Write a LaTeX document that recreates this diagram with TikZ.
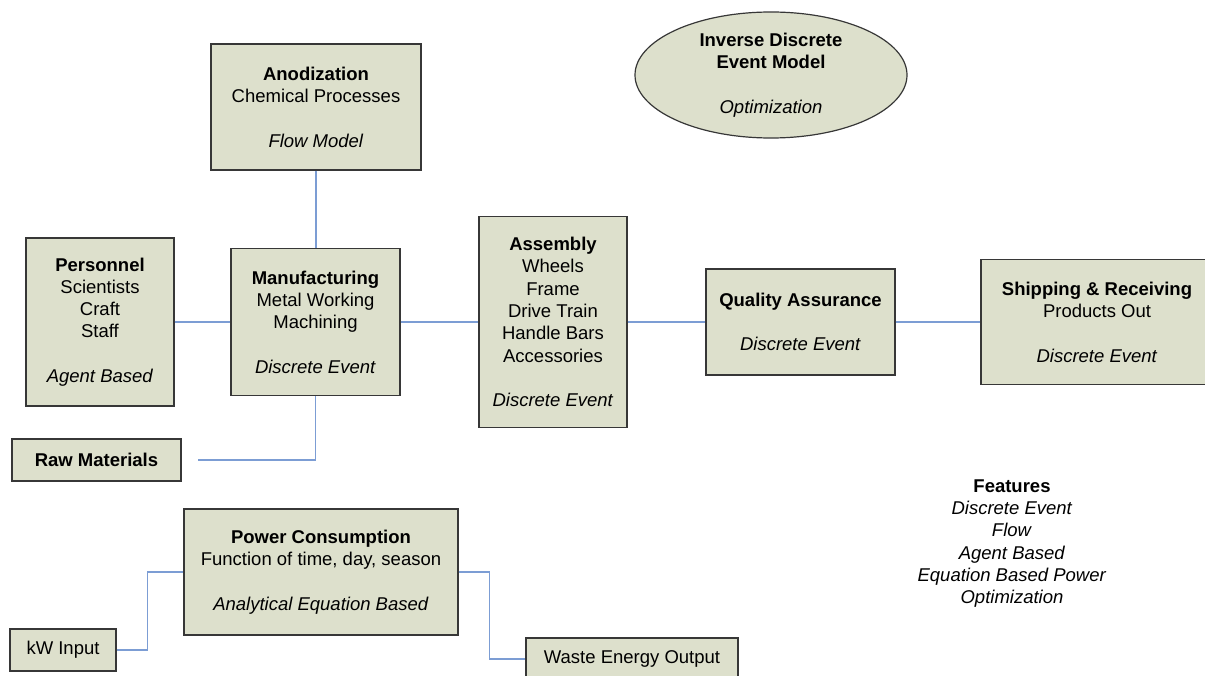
\documentclass[tikz,border=0pt]{standalone}
\usepackage{fontspec}
\setmainfont{Liberation Sans}
\usetikzlibrary{shapes.geometric,calc}
\definecolor{boxfill}{RGB}{221,224,204}
\definecolor{boxline}{RGB}{55,55,55}
\definecolor{linkblue}{RGB}{124,157,212}
\tikzset{
  modelbox/.style={draw=boxline, fill=boxfill, line width=1.2pt, inner sep=0pt, align=center,
    font=\fontsize{18.5}{22.3}\selectfont},
  plaintext/.style={inner sep=0pt, align=center, font=\fontsize{18.5}{22.3}\selectfont},
  link/.style={draw=linkblue, line width=1.4pt}
}
\begin{document}
\begin{tikzpicture}[x=1pt,y=-1pt]
\useasboundingbox (0,0) rectangle (1205,676);
\clip (0,0) rectangle (1205,676);
\fill[white] (0,0) rectangle (1205,676);

\node[modelbox, minimum width=210, minimum height=126] (anod) at (316,107)
  {\textbf{Anodization}\\Chemical Processes\\[22.3pt]\textit{Flow Model}};
\node[modelbox, ellipse, minimum width=272, minimum height=126] (inv) at (771,75)
  {\textbf{Inverse Discrete}\\\textbf{Event Model}\\[22.3pt]\textit{Optimization}};
\node[modelbox, minimum width=148, minimum height=168] (pers) at (100,322)
  {\textbf{Personnel}\\Scientists\\Craft\\Staff\\[22.3pt]\textit{Agent Based}};
\node[modelbox, minimum width=169, minimum height=147] (manu) at (315.5,322)
  {\textbf{Manufacturing}\\Metal Working\\Machining\\[22.3pt]\textit{Discrete Event}};
\node[modelbox, minimum width=148, minimum height=211] (asm) at (553,322)
  {\textbf{Assembly}\\Wheels\\Frame\\Drive Train\\Handle Bars\\Accessories\\[22.3pt]\textit{Discrete Event}};
\node[modelbox, minimum width=189, minimum height=106] (qa) at (800.5,322)
  {\textbf{Quality Assurance}\\[22.3pt]\textit{Discrete Event}};
\node[modelbox, minimum width=232, minimum height=125] (ship) at (1097,322)
  {\textbf{Shipping \& Receiving}\\Products Out\\[22.3pt]\textit{Discrete Event}};
\node[modelbox, minimum width=169, minimum height=42] (raw) at (96.5,460)
  {\textbf{Raw Materials}};
\node[modelbox, minimum width=274, minimum height=126] (pow) at (321,572)
  {\textbf{Power Consumption}\\Function of time, day, season\\[22.3pt]\textit{Analytical Equation Based}};
\node[modelbox, minimum width=106, minimum height=42] (kw) at (63,650)
  {kW Input};
\node[modelbox, minimum width=212, minimum height=42] (waste) at (632,659)
  {Waste Energy Output};
\node[plaintext] (feat) at (1012,543.5)
  {\textbf{Features}\\\textit{Discrete Event}\\\textit{Flow}\\\textit{Agent Based}\\\textit{Equation Based Power}\\\textit{Optimization}};

\coordinate (rawend) at (198,460);

\draw[link] (anod.south) -- (anod.south |- manu.north);
\draw[link] (pers.east) -- (pers.east -| manu.west);
\draw[link] (manu.east) -- (manu.east -| asm.west);
\draw[link] (asm.east) -- (asm.east -| qa.west);
\draw[link] (qa.east) -- (qa.east -| ship.west);
\draw[link] (manu.south) |- (rawend);
\draw[link] (kw.east) -- ++(31,0) |- (pow.west);
\draw[link] (pow.east) -- ++(31,0) |- (waste.west);
\end{tikzpicture}
\end{document}
